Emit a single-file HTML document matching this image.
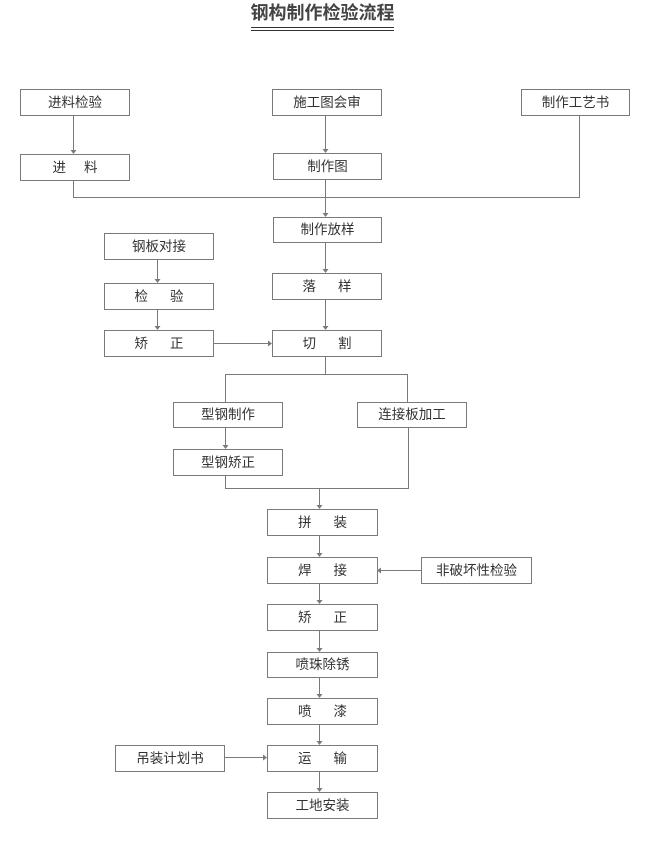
<!DOCTYPE html>
<html><head><meta charset="utf-8"><style>
html,body{margin:0;padding:0;background:#fff;}
body{width:650px;height:842px;position:relative;overflow:hidden;font-family:"Liberation Sans","Noto Sans CJK SC","WenQuanYi Zen Hei",sans-serif;}
.b{position:absolute;box-sizing:border-box;border:1px solid #7a7a7a;background:#fff;color:#333;font-size:13.5px;display:flex;align-items:center;justify-content:center;white-space:nowrap;line-height:1;}
.g{display:inline-block;width:22px;}
.g2{display:inline-block;width:18px;}
.t{position:absolute;left:240px;top:2px;width:165px;text-align:center;font-size:18px;font-weight:bold;color:#444;line-height:22px;}
.u{position:absolute;left:251px;width:143px;height:1px;background:#333;}
svg{position:absolute;left:0;top:0;}
</style></head><body>
<div class="t">钢构制作检验流程</div>
<div class="u" style="top:27px"></div>
<div class="u" style="top:30px"></div>

<svg width="650" height="842" viewBox="0 0 650 842">
<g stroke="#7a7a7a" stroke-width="1" fill="none">
<path d="M73.5 115V152"/>
<path d="M325.5 115V151"/>
<path d="M73.5 180V197.5H579.5V115"/>
<path d="M325.5 179V215"/>
<path d="M325.5 242V271"/>
<path d="M325.5 299V328"/>
<path d="M157.5 259V281"/>
<path d="M157.5 309V328"/>
<path d="M213 343.5H270"/>
<path d="M325.5 356V374.5"/>
<path d="M225.5 402V374.5H407.5V402"/>
<path d="M225.5 427V447"/>
<path d="M225.5 475V488.5H408.5V427"/>
<path d="M319.5 488.5V507"/>
<path d="M319.5 535V555"/>
<path d="M319.5 583V602"/>
<path d="M319.5 630V650"/>
<path d="M319.5 677V696"/>
<path d="M319.5 724V743"/>
<path d="M319.5 771V790"/>
<path d="M421 570.5H379"/>
<path d="M224 757.5H265"/>
</g>
<g fill="#7a7a7a">
<path d="M70.5 150H76.5L73.5 154Z"/>
<path d="M322.5 149H328.5L325.5 153Z"/>
<path d="M322.5 213H328.5L325.5 217Z"/>
<path d="M322.5 269H328.5L325.5 273Z"/>
<path d="M322.5 326H328.5L325.5 330Z"/>
<path d="M154.5 279H160.5L157.5 283Z"/>
<path d="M154.5 326H160.5L157.5 330Z"/>
<path d="M268 340.5V346.5L272 343.5Z"/>
<path d="M222.5 445H228.5L225.5 449Z"/>
<path d="M316.5 505H322.5L319.5 509Z"/>
<path d="M316.5 553H322.5L319.5 557Z"/>
<path d="M316.5 600H322.5L319.5 604Z"/>
<path d="M316.5 648H322.5L319.5 652Z"/>
<path d="M316.5 694H322.5L319.5 698Z"/>
<path d="M316.5 741H322.5L319.5 745Z"/>
<path d="M316.5 788H322.5L319.5 792Z"/>
<path d="M381 567.5V573.5L377 570.5Z"/>
<path d="M263 754.5V760.5L267 757.5Z"/>
</g>
</svg>

<div class="b" style="left:20px;top:89px;width:110px;height:27px">进料检验</div>
<div class="b" style="left:272px;top:89px;width:110px;height:27px">施工图会审</div>
<div class="b" style="left:521px;top:89px;width:109px;height:27px">制作工艺书</div>
<div class="b" style="left:20px;top:154px;width:110px;height:27px">进<span class="g2"></span>料</div>
<div class="b" style="left:273px;top:153px;width:109px;height:27px">制作图</div>
<div class="b" style="left:273px;top:217px;width:109px;height:26px">制作放样</div>
<div class="b" style="left:104px;top:233px;width:110px;height:27px">钢板对接</div>
<div class="b" style="left:272px;top:273px;width:110px;height:27px">落<span class="g"></span>样</div>
<div class="b" style="left:104px;top:283px;width:110px;height:27px">检<span class="g"></span>验</div>
<div class="b" style="left:104px;top:330px;width:110px;height:27px">矫<span class="g"></span>正</div>
<div class="b" style="left:272px;top:330px;width:110px;height:27px">切<span class="g"></span>割</div>
<div class="b" style="left:173px;top:402px;width:110px;height:26px">型钢制作</div>
<div class="b" style="left:357px;top:402px;width:110px;height:26px">连接板加工</div>
<div class="b" style="left:173px;top:449px;width:110px;height:27px">型钢矫正</div>
<div class="b" style="left:267px;top:509px;width:111px;height:27px">拼<span class="g"></span>装</div>
<div class="b" style="left:267px;top:557px;width:111px;height:27px">焊<span class="g"></span>接</div>
<div class="b" style="left:421px;top:557px;width:111px;height:27px">非破坏性检验</div>
<div class="b" style="left:267px;top:604px;width:111px;height:27px">矫<span class="g"></span>正</div>
<div class="b" style="left:267px;top:652px;width:111px;height:26px">喷珠除锈</div>
<div class="b" style="left:267px;top:698px;width:111px;height:27px">喷<span class="g"></span>漆</div>
<div class="b" style="left:115px;top:745px;width:110px;height:27px">吊装计划书</div>
<div class="b" style="left:267px;top:745px;width:111px;height:27px">运<span class="g"></span>输</div>
<div class="b" style="left:267px;top:792px;width:111px;height:27px">工地安装</div>
</body></html>
